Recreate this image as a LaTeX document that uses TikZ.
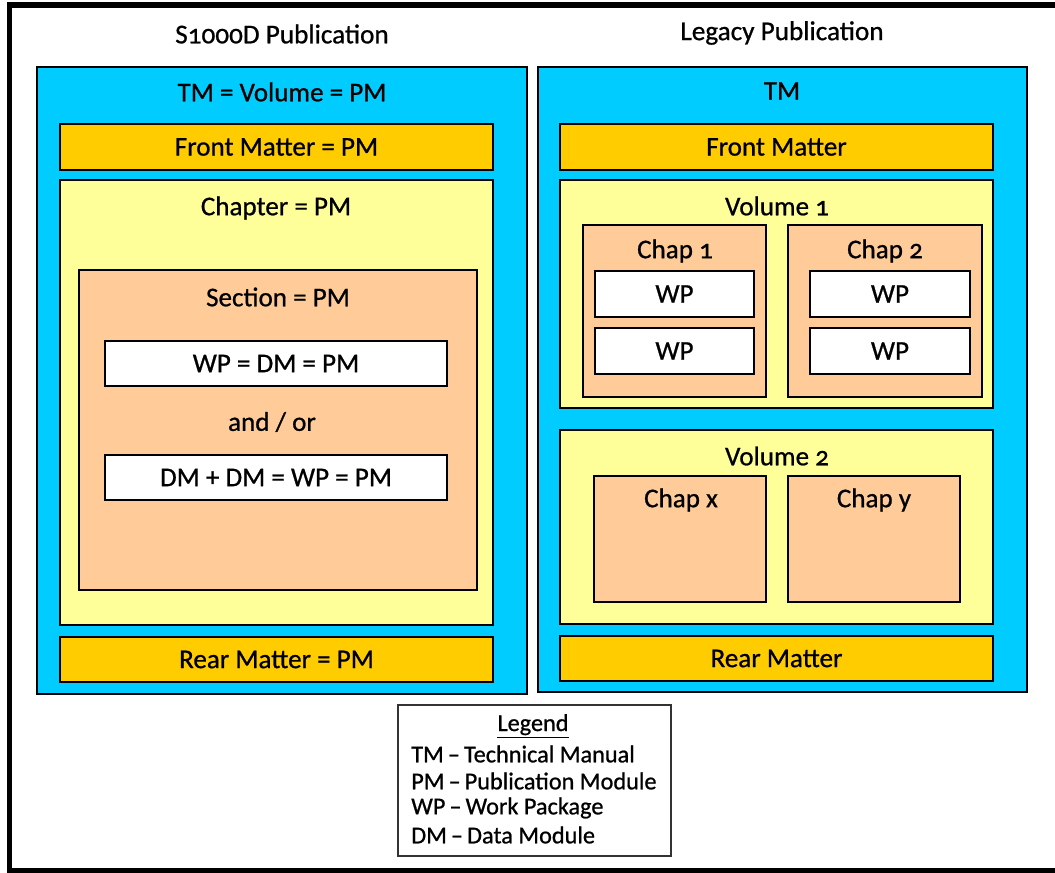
\documentclass[tikz,border=0pt]{standalone}
\usepackage{fontspec}
\setmainfont{Carlito}[Numbers=OldStyle]
\newfontfamily\boxfont{Carlito}[Numbers=OldStyle, FakeBold=0.8]
\usetikzlibrary{fit}
\definecolor{tmblue}{HTML}{00CCFF}
\definecolor{mattergold}{HTML}{FFCC00}
\definecolor{chapyellow}{HTML}{FFFF99}
\definecolor{secpeach}{HTML}{FFCC99}
\tikzset{
  pbox/.style={draw=black, line width=1.3pt, inner sep=0pt},
  blue box/.style={pbox, fill=tmblue},
  matter box/.style={pbox, fill=mattergold},
  chap box/.style={pbox, fill=chapyellow},
  sec box/.style={pbox, fill=secpeach},
  wp box/.style={pbox, fill=white},
  legend box/.style={draw=black!80, line width=0.8pt, inner sep=0pt, fill=white},
  lbl/.style={font=\boxfont\fontsize{20.3}{23}\selectfont, inner sep=0pt, anchor=center},
  title/.style={font=\boxfont\fontsize{20.4}{23}\selectfont, inner sep=0pt, anchor=center},
  legtext/.style={font=\boxfont\fontsize{18.2}{20}\selectfont, inner sep=0pt, anchor=west},
}
\begin{document}
\begin{tikzpicture}[x=0.75pt, y=-0.75pt]
\useasboundingbox (0,0) rectangle (1055,873);
\clip (0,0) rectangle (1055,873);
% outer frame, its right side runs past the page edge
\draw[line width=3.8pt] (9.5,5) rectangle (1075,871);

% ---------- S1000D publication ----------
\node[title] (t1) at (282,34) {S1000D Publication};
\node[blue box, fit={(37,67) (527,694)}] (s1) {};
\node[lbl] (s1l) at (282,92) {TM = Volume = PM};
\node[matter box, fit={(60,124) (493,170)}] (sfm) {};
\node[lbl] at (sfm.center) (sfml) {Front Matter = PM};
\node[chap box, fit={(60,180) (493,625)}] (sch) {};
\node[lbl] (schl) at (276,208) {Chapter = PM};
\node[sec box, fit={(79,270) (477,590)}] (ssec) {};
\node[lbl] (ssecl) at (278,297) {Section = PM};
\node[wp box, fit={(105,341) (447,386)}] (swp1) {};
\node[lbl] at (swp1.center) (swp1l) {WP = DM = PM};
\node[lbl] (sor) at (272,422) {and / or};
\node[wp box, fit={(105,455) (447,500)}] (swp2) {};
\node[lbl] at (swp2.center) (swp2l) {DM + DM = WP = PM};
\node[matter box, fit={(60,637) (493,682)}] (srm) {};
\node[lbl] at (srm.center) (srml) {Rear Matter = PM};

% ---------- Legacy publication ----------
\node[title] (t2) at (782,33) {Legacy Publication};
\node[blue box, fit={(538,67) (1027,692)}] (l1) {};
\node[lbl] (l1l) at (782,91) {TM};
\node[matter box, fit={(560,124) (993,170)}] (lfm) {};
\node[lbl] at (lfm.center) (lfml) {Front Matter};
% volume 1
\node[chap box, fit={(560,180) (993,408)}] (v1) {};
\node[lbl] (v1l) at (777,206) {Volume 1};
\node[sec box, fit={(583,225) (766,397)}] (c1) {};
\node[lbl] (c1l) at (675,251) {Chap 1};
\node[wp box, fit={(595,271) (754,317)}] (c1a) {};
\node[lbl] at (c1a.center) (c1al) {WP};
\node[wp box, fit={(595,328) (754,374)}] (c1b) {};
\node[lbl] at (c1b.center) (c1bl) {WP};
\node[sec box, fit={(788,225) (982,397)}] (c2) {};
\node[lbl] (c2l) at (885,251) {Chap 2};
\node[wp box, fit={(810,271) (970,317)}] (c2a) {};
\node[lbl] at (c2a.center) (c2al) {WP};
\node[wp box, fit={(810,328) (970,374)}] (c2b) {};
\node[lbl] at (c2b.center) (c2bl) {WP};
% volume 2
\node[chap box, fit={(560,430) (993,624)}] (v2) {};
\node[lbl] (v2l) at (777,456) {Volume 2};
\node[sec box, fit={(594,476) (766,602)}] (cx) {};
\node[lbl] (cxl) at (681,500) {Chap x};
\node[sec box, fit={(788,476) (960,602)}] (cy) {};
\node[lbl] (cyl) at (874,500) {Chap y};
\node[matter box, fit={(560,636) (993,681)}] (lrm) {};
\node[lbl] at (lrm.center) (lrml) {Rear Matter};

% ---------- legend ----------
\node[legend box, fit={(398,705) (671,856)}] (leg) {};
\node[legtext, anchor=center] (legt) at (533,726) {\underline{Legend}};
\node[legtext] (lg1) at (411,754) {TM\,–\,Technical Manual};
\node[legtext] (lg2) at (411,781) {PM\,–\,Publication Module};
\node[legtext] (lg3) at (411,808) {WP\,–\,Work Package};
\node[legtext] (lg4) at (411,835) {DM\,–\,Data Module};
\end{tikzpicture}
\end{document}
